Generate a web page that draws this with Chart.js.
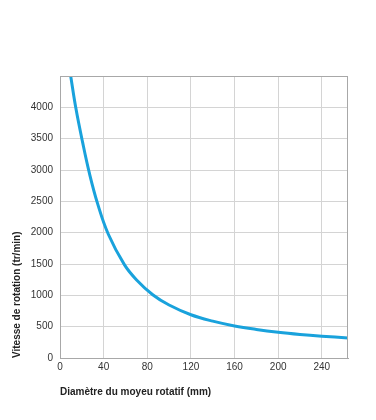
<!DOCTYPE html>
<html>
<head>
<meta charset="utf-8">
<script src="https://cdn.jsdelivr.net/npm/chart.js@4.4.1/dist/chart.umd.min.js"></script>
<style>
  html, body { margin: 0; padding: 0; background: #fff; }
  #wrap { width: 376px; height: 420px; }
</style>
</head>
<body>
<div id="wrap"><canvas id="speedChart"></canvas></div>
<script>
// diamètre du moyeu (mm) et vitesse (tr/min)
var diameters = [9.8, 14.4, 20.5, 27, 34.6, 44.3, 59, 70, 85, 100, 120, 140, 160, 180, 200, 220, 240, 264];
var speeds = [4500, 4000, 3460, 2945, 2455, 1975, 1490, 1250, 1010, 845, 690, 588, 512, 456, 411, 376, 348, 320];
var xTicks = [0, 40, 80, 120, 160, 200, 240];
var yTicks = [0, 500, 1000, 1500, 2000, 2500, 3000, 3500, 4000];

var points = diameters.map(function(d, i) {
    return { x: d, y: speeds[i] };
});

var ctx = document.getElementById('speedChart');
new Chart(ctx, {
    type: 'line',
    data: {
        datasets: [{
            data: points,
            borderColor: '#19a2dc',
            borderWidth: 3,
            pointRadius: 0,
            fill: false,
            tension: 0.4
        }]
    },
    options: {
        responsive: true,
        maintainAspectRatio: false,
        animation: false,
        layout: {
            padding: { top: 76, right: 28, bottom: 22, left: 0 }
        },
        plugins: {
            legend: { display: false },
            tooltip: { enabled: false }
        },
        scales: {
            x: {
                type: 'linear',
                min: 0,
                max: 264,
                afterBuildTicks: function(scale) {
                    scale.ticks = xTicks.map(function(v) { return { value: v }; });
                },
                afterFit: function(scale) { scale.height = 40; },
                grid: { color: '#d4d4d4', drawTicks: false },
                border: { color: '#a8a8a8', width: 1 },
                ticks: {
                    padding: 3,
                    color: '#333',
                    font: { family: 'Liberation Sans', size: 10 },
                    callback: function(v) { return String(v); }
                },
                title: {
                    display: true,
                    text: 'Diamètre du moyeu rotatif (mm)',
                    align: 'start',
                    color: '#222',
                    padding: { top: 2, bottom: 0 },
                    font: { family: 'Liberation Sans', size: 10, weight: 'bold' }
                }
            },
            y: {
                min: 0,
                max: 4500,
                afterBuildTicks: function(scale) {
                    scale.ticks = yTicks.map(function(v) { return { value: v }; });
                },
                afterFit: function(scale) { scale.width = 60; },
                grid: { color: '#d4d4d4', drawTicks: false },
                border: { color: '#a8a8a8', width: 1 },
                ticks: {
                    padding: 7,
                    color: '#333',
                    font: { family: 'Liberation Sans', size: 10 },
                    callback: function(v) { return String(v); }
                },
                title: {
                    display: true,
                    text: 'Vitesse de rotation (tr/min)',
                    align: 'start',
                    color: '#222',
                    padding: { top: 11, bottom: 0 },
                    font: { family: 'Liberation Sans', size: 10, weight: 'bold' }
                }
            }
        }
    },
    plugins: [{
        id: 'topBorder',
        afterDraw: function(chart) {
            var a = chart.chartArea;
            var c = chart.ctx;
            c.save();
            c.strokeStyle = '#a8a8a8';
            c.lineWidth = 1;
            c.beginPath();
            c.moveTo(a.left, a.top + 0.5);
            c.lineTo(a.right, a.top + 0.5);
            c.moveTo(a.right - 0.5, a.top);
            c.lineTo(a.right - 0.5, a.bottom);
            c.stroke();
            c.restore();
        }
    }]
});
</script>
</body>
</html>
